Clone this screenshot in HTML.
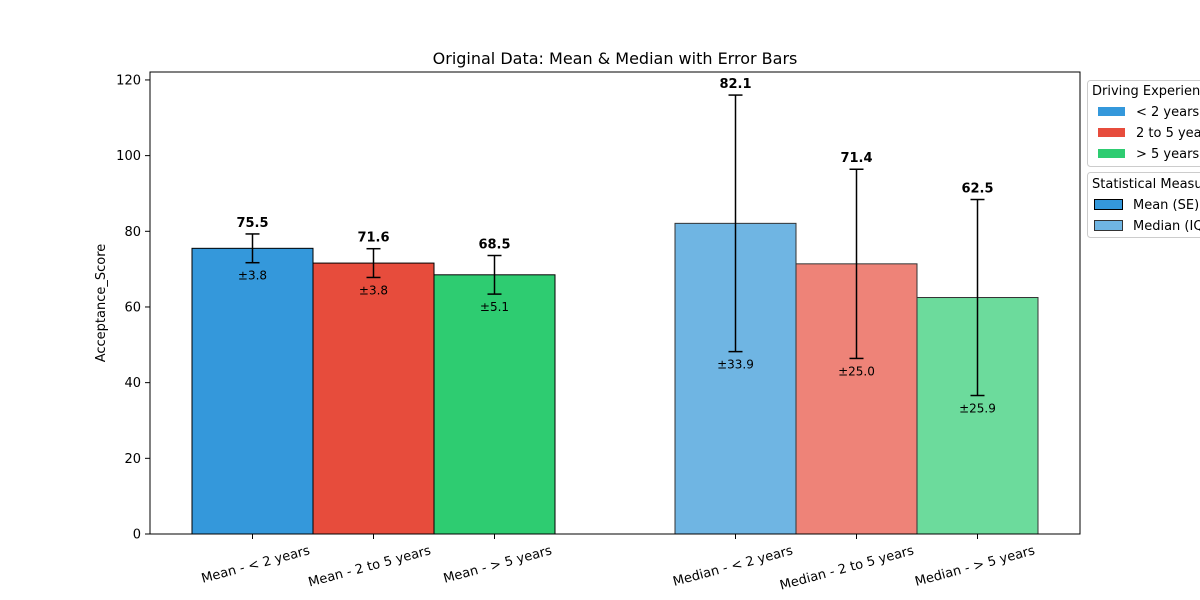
<!DOCTYPE html>
<html><head><meta charset="utf-8"><style>
body{margin:0;background:#fff;}
svg{display:block;font-family:"DejaVu Sans","Liberation Sans",sans-serif;}
</style></head><body>
<svg id="chart" width="1200" height="600" viewBox="0 0 1200 600" xmlns="http://www.w3.org/2000/svg">
<rect width="1200" height="600" fill="#fff"/>
<text x="615" y="64" text-anchor="middle" font-size="16">Original Data: Mean &amp; Median with Error Bars</text>
<text transform="translate(105,303) rotate(-90)" text-anchor="middle" font-size="13">Acceptance_Score</text>
<g id="bars"></g>
<rect x="150" y="72" width="930" height="462" fill="none" stroke="#000" stroke-width="1"/>
<g id="axes"></g>
<g id="legend">
<rect x="1087.5" y="80.5" width="130" height="86" rx="3" fill="#fff" stroke="#ccc"/>
<text x="1092" y="95" font-size="13">Driving Experience</text>
<rect x="1098" y="107" width="27" height="9" fill="#3498db"/>
<text x="1136" y="116" font-size="13">&lt; 2 years</text>
<rect x="1098" y="128" width="27" height="9" fill="#e74c3c"/>
<text x="1136" y="137" font-size="13">2 to 5 years</text>
<rect x="1098" y="149" width="27" height="9" fill="#2ecc71"/>
<text x="1136" y="158" font-size="13">&gt; 5 years</text>
<rect x="1087.5" y="172.5" width="130" height="65" rx="3" fill="#fff" stroke="#ccc"/>
<text x="1092" y="188" font-size="13">Statistical Measure</text>
<rect x="1094.5" y="199.5" width="28" height="10" fill="#3498db" stroke="#000"/>
<text x="1133" y="209" font-size="13">Mean (SE)</text>
<rect x="1094.5" y="220.5" width="28" height="10" fill="#6fb5e3" stroke="#333"/>
<text x="1133" y="230" font-size="13">Median (IQR)</text>
</g>
</svg>
<script>
const categories = ["Mean - < 2 years","Mean - 2 to 5 years","Mean - > 5 years","Median - < 2 years","Median - 2 to 5 years","Median - > 5 years"];
const values = [75.5, 71.6, 68.5, 82.1, 71.4, 62.5];
const errors = [3.8, 3.8, 5.1, 33.9, 25.0, 25.9];
const yTicks = [0, 20, 40, 60, 80, 100, 120];
const colors = ["#3498db","#e74c3c","#2ecc71","#6fb5e3","#ee8378","#6cdb9c"];
const NS = "http://www.w3.org/2000/svg";
const yMax = 122.1, plotTop = 72, plotBottom = 534;
function y(v){ return plotBottom - v/yMax*(plotBottom-plotTop); }
function xc(i){ return i < 3 ? 252.5 + i*121 : 735.5 + (i-3)*121; }
const bw = 121;
function mk(tag, attrs, parent){ const e=document.createElementNS(NS,tag); for(const k in attrs) e.setAttribute(k,attrs[k]); parent.appendChild(e); return e; }
const bars = document.getElementById('bars'), axes = document.getElementById('axes');
values.forEach((v,i)=>{
  const cx = xc(i), med = i>=3;
  const r = mk('rect',{x:cx-bw/2,y:y(v),width:bw,height:plotBottom-y(v),fill:colors[i],stroke:med?'#333':'#000','stroke-width':1},bars);
  
  
  const e = errors[i], t=y(v+e), b=y(v-e);
  const g = mk('g',{stroke:'#000','stroke-width':1.5},bars);
  
  
  mk('line',{x1:cx,x2:cx,y1:t,y2:b},g);
  mk('line',{x1:cx-7,x2:cx+7,y1:t,y2:t},g);
  mk('line',{x1:cx-7,x2:cx+7,y1:b,y2:b},g);
  const vl = mk('text',{x:cx,y:t-7,'text-anchor':'middle','font-size':13,'font-weight':'bold'},bars);
  vl.textContent = v.toFixed(1);
  
  
  const el = mk('text',{x:cx,y:b+17,'text-anchor':'middle','font-size':12},bars);
  el.textContent = '±'+e.toFixed(1);
  
  
  mk('line',{x1:cx,x2:cx,y1:plotBottom,y2:plotBottom+5,stroke:'#000'},axes);
  const xl = mk('text',{'font-size':13,'text-anchor':'end',transform:`translate(${cx+58},${plotBottom+20}) rotate(-15)`},axes);
  xl.textContent = categories[i];
  
  
});
yTicks.forEach(t=>{
  const yy=y(t);
  mk('line',{x1:145,x2:150,y1:yy,y2:yy,stroke:'#000'},axes);
  const l = mk('text',{x:141,y:yy+4.5,'text-anchor':'end','font-size':13},axes);
  l.textContent = t;
  
  
});
</script>
</body></html>
